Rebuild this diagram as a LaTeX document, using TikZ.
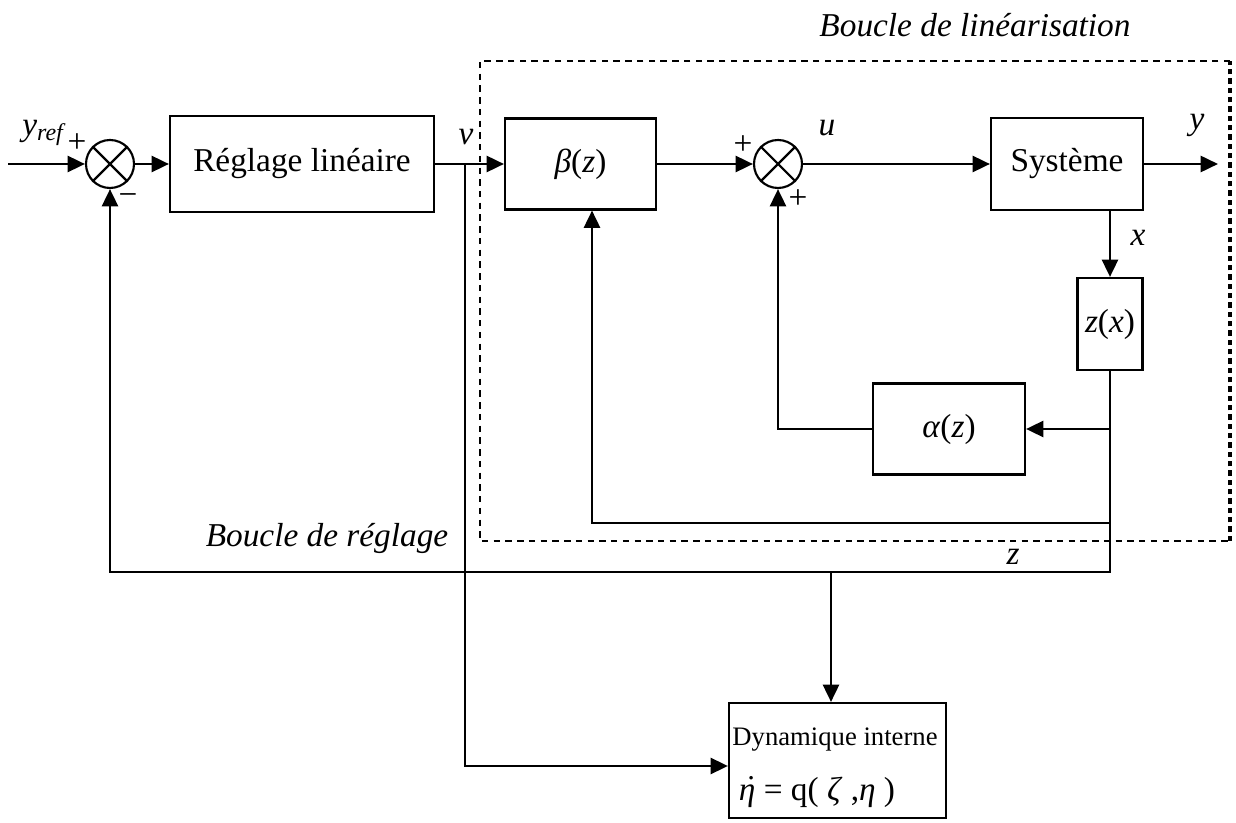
\documentclass[tikz,border=0pt]{standalone}
\usepackage{fontspec}
\setmainfont{Liberation Serif}
\usetikzlibrary{arrows.meta}

\begin{document}
\begin{tikzpicture}[x=0.375pt,y=-0.375pt,
  font=\fontsize{12.5}{14}\selectfont,
  line width=1pt,
  arr/.style={-{Triangle[length=6.5pt,width=6pt]}},
  block/.style={draw,line width=0.8pt,inner sep=0pt},
  sumnode/.style={draw,circle,line width=0.8pt,minimum size=18pt,inner sep=0pt},
  lbl/.style={inner sep=0pt},
  loopbox/.style={dashed,line width=0.6pt,dash pattern=on 2.4pt off 2pt}]

\useasboundingbox (0,0) rectangle (1236,823);

% summing junctions
\node[sumnode] (s1) at (110,164) {};
\draw[line width=0.8pt] (s1.45) -- (s1.225) (s1.135) -- (s1.315);
\node[sumnode] (s2) at (778,164) {};
\draw[line width=0.8pt] (s2.45) -- (s2.225) (s2.135) -- (s2.315);

% blocks
\node[block,minimum width=99pt,minimum height=36pt] (reg) at (302,164) {Réglage linéaire};
\node[block,minimum width=56.6pt,minimum height=34.1pt] (beta) at (580.5,164) {\textit{β}(\textit{z})};
\node[block,minimum width=57pt,minimum height=34.5pt] (sys) at (1067,164) {Système};
\node[block,minimum width=24.4pt,minimum height=34.5pt] (zx) at (1110,324) {\textit{z}(\textit{x})};
\node[block,minimum width=57pt,minimum height=34.1pt] (al) at (949,429) {\textit{α}(\textit{z})};
\node[block,minimum width=81.4pt,minimum height=43.1pt] (dyn) at (837.5,760.5) {};
\node[lbl,font=\fontsize{10}{12}\selectfont] (dyntxt) at (835,740) {Dynamique interne};
\node[lbl] (dyneq) at (817,792) {\rlap{\hspace{0.2em}\raisebox{0.05em}{˙}}\textit{η} = q( \textit{ζ} ,\textit{η} )};

% linearisation loop frame
\coordinate (fa) at (480,61);
\coordinate (fb) at (1230,541);
\draw[loopbox] (fa -| fb) -- (fa) -- (fa |- fb) -- (fb);
\draw[loopbox,line width=1.3pt,dash pattern=on 2pt off 1.5pt] (fb) -- (fa -| fb);

% coordinates of branch points and free ends
\coordinate (in) at (8,164);
\coordinate (out) at (1218,164);
\coordinate (vb) at (465,164);
\coordinate (vd) at (465,766);
\coordinate (ab) at (1110,429);
\coordinate (bb) at (1110,523);
\coordinate (bup) at (592,523);
\coordinate (zb) at (1110,572);
\coordinate (db) at (831,572);

% forward path
\draw[arr] (in) -- (s1.west);
\draw[arr] (s1.east) -- (reg.west);
\draw[arr] (reg.east) -- (beta.west);
\draw[arr] (beta.east) -- (s2.west);
\draw[arr] (s2.east) -- (sys.west);
\draw[arr] (sys.east) -- (out);
\draw[arr] (zx.north |- sys.south) -- (zx.north);

% feedback paths
\draw[arr] (zx.south) -- (zb) -| (s1.south);
\draw[arr] (ab) -- (al.east);
\draw[arr] (al.west) -| (s2.south);
\draw[arr] (bb) -- (bup) -- (bup |- beta.south);
\draw[arr] (db) -- (db |- dyn.north);
\draw[arr] (vb) -- (vd) -- (vd -| dyn.west);

% signal labels
\node[lbl] (yref) at (44,133) {\textit{y}\raisebox{-0.3ex}{\fontsize{9}{10}\selectfont\textit{ref}}};
\node[lbl] (p1) at (77,143) {+};
\node[lbl] (m1) at (128,200) {−};
\node[lbl] (lv) at (466,137) {\textit{v}};
\node[lbl] (p2) at (743,145) {+};
\node[lbl] (p3) at (798,199) {+};
\node[lbl] (lu) at (827,128) {\textit{u}};
\node[lbl] (ly) at (1197,125) {\textit{y}};
\node[lbl] (lx) at (1138,238) {\textit{x}};
\node[lbl] (lz) at (1013,557) {\textit{z}};
\node[lbl] (t1) at (975,25) {\textit{Boucle de linéarisation}};
\node[lbl] (t2) at (327,538) {\textit{Boucle de réglage}};
\end{tikzpicture}
\end{document}
